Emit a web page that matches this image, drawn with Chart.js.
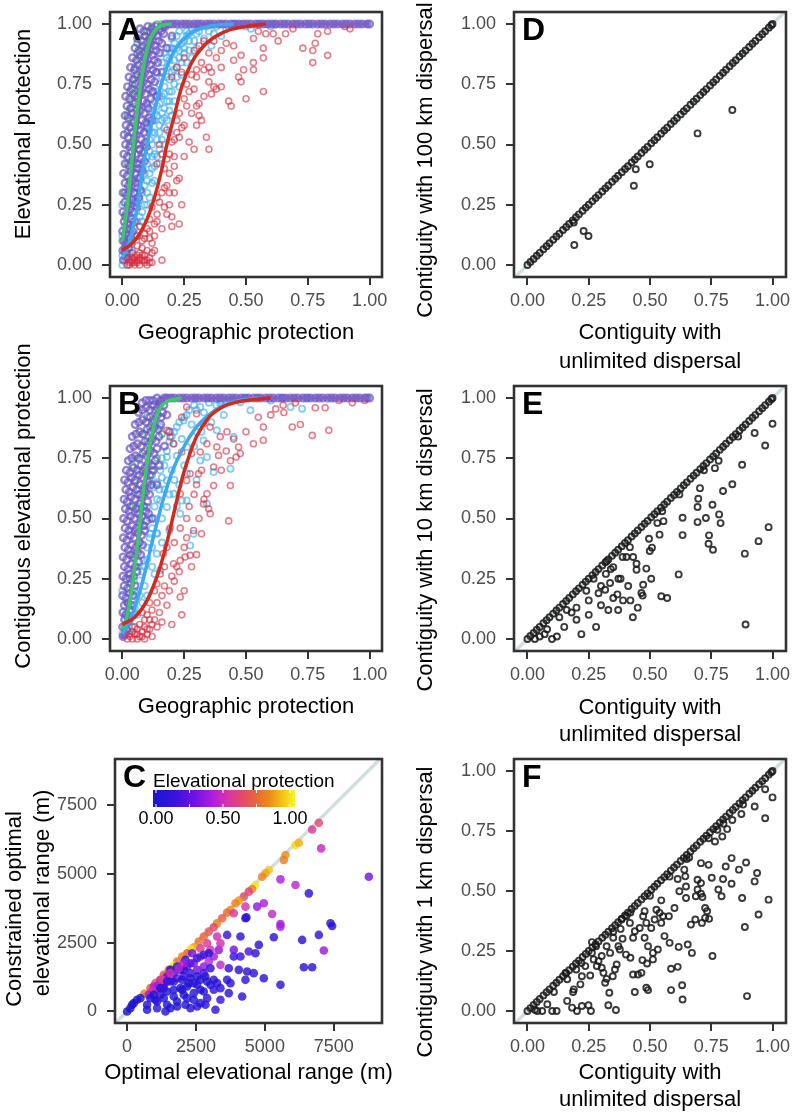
<!DOCTYPE html>
<html><head><meta charset="utf-8">
<script src="https://cdn.jsdelivr.net/npm/chart.js@4.4.0/dist/chart.umd.min.js"></script>
<style>
html,body{margin:0;padding:0;background:#fff;overflow:hidden;width:793px;height:1115px}
canvas{position:absolute}
</style></head><body>
<canvas id="cA" width="396" height="380" style="left:0px;top:0px"></canvas>
<canvas id="cD" width="393" height="380" style="left:400px;top:0px"></canvas>
<canvas id="cB" width="396" height="420" style="left:0px;top:334px"></canvas>
<canvas id="cE" width="393" height="380" style="left:400px;top:374px"></canvas>
<canvas id="cC" width="396" height="368" style="left:0px;top:747px"></canvas>
<canvas id="cF" width="393" height="368" style="left:400px;top:747px"></canvas>
<script>
// ---------------- DATA ----------------
const ticks01 = [0, 0.25, 0.5, 0.75, 1];
const ticksC = [0, 2500, 5000, 7500];
const cLegendTicks = [0, 0.5, 1];

// Panel A (Geographic vs Elevational protection)
const aRed = [[0.92,0.98],[0.90,0.99],[0.83,0.97],[0.79,0.96],[0.78,0.92],[0.73,0.90],[0.77,0.89],[0.77,0.84],[0.83,0.87],[0.69,0.98],[0.66,0.96],[0.63,0.93],[0.61,0.96],[0.58,0.96],[0.55,0.97],[0.53,0.94],[0.57,0.90],[0.57,0.86],[0.53,0.84],[0.48,0.87],[0.45,0.91],[0.42,0.92],[0.37,0.93],[0.40,0.89],[0.38,0.86],[0.45,0.85],[0.47,0.78],[0.48,0.76],[0.43,0.68],[0.44,0.66],[0.50,0.69],[0.57,0.72],[0.53,0.81],[0.49,0.81],[0.32,0.84],[0.33,0.81],[0.35,0.82],[0.30,0.78],[0.36,0.80],[0.40,0.82],[0.38,0.73],[0.36,0.71],[0.33,0.70],[0.29,0.73],[0.26,0.66],[0.30,0.66],[0.37,0.74],[0.35,0.76],[0.40,0.74],[0.28,0.63],[0.31,0.62],[0.30,0.58],[0.32,0.60],[0.34,0.53],[0.35,0.48],[0.29,0.48],[0.27,0.51],[0.24,0.57],[0.23,0.53],[0.25,0.45],[0.21,0.45],[0.21,0.41],[0.19,0.38],[0.17,0.40],[0.17,0.32],[0.19,0.30],[0.21,0.30],[0.22,0.35],[0.23,0.36],[0.24,0.25],[0.23,0.17],[0.20,0.16],[0.18,0.21],[0.14,0.21],[0.12,0.24],[0.14,0.18],[0.11,0.19],[0.10,0.15],[0.13,0.12],[0.09,0.13],[0.08,0.10],[0.06,0.08],[0.04,0.05],[0.05,0.01],[0.07,0.02],[0.09,0.04],[0.10,0.06],[0.12,0.09],[0.08,0.07],[0.11,0.11],[0.16,0.15],[0.15,0.26],[0.18,0.33],[0.20,0.51],[0.22,0.55],[0.25,0.58],[0.31,0.67],[0.16,0.02],[0.02,0.00],[0.03,0.00],[0.04,0.01],[0.05,0.00],[0.06,0.01],[0.07,0.00],[0.08,0.02],[0.09,0.01],[0.10,0.02],[0.03,0.02],[0.05,0.03],[0.06,0.04],[0.07,0.05],[0.11,0.03],[0.12,0.05],[0.06,0.12],[0.07,0.16],[0.09,0.11],[0.13,0.06],[0.11,0.14],[0.13,0.17],[0.14,0.28],[0.16,0.30],[0.17,0.24],[0.19,0.25],[0.20,0.20],[0.18,0.44],[0.19,0.46],[0.21,0.52],[0.22,0.60],[0.23,0.63],[0.25,0.69],[0.27,0.72],[0.26,0.75],[0.28,0.79],[0.30,0.81],[0.29,0.89],[0.31,0.91],[0.33,0.93],[0.35,0.88],[0.25,0.86],[0.22,0.82],[0.20,0.78],[0.24,0.80],[0.18,0.56],[0.15,0.50],[0.16,0.46],[0.14,0.42],[0.02,0.03],[0.04,0.03],[0.08,0.04],[0.10,0.00],[0.12,0.01],[0.03,0.01],[0.05,0.02],[0.07,0.03],[0.09,0.02],[0.11,0.01],[0.04,0.02],[0.06,0.02]];
const aBlue = [[0.0,0.0],[0.01,0.02],[0.02,0.0],[0.0,0.04],[0.01,0.07],[0.02,0.10],[0.03,0.05],[0.0,0.12],[0.01,0.16],[0.02,0.20],[0.03,0.14],[0.04,0.09],[0.0,0.25],[0.01,0.30],[0.03,0.28],[0.06,0.30],[0.07,0.35],[0.08,0.40],[0.09,0.33],[0.10,0.45],[0.11,0.38],[0.12,0.50],[0.13,0.55],[0.11,0.60],[0.14,0.62],[0.15,0.58],[0.13,0.68],[0.16,0.70],[0.17,0.65],[0.15,0.75],[0.18,0.78],[0.20,0.80],[0.19,0.72],[0.21,0.85],[0.17,0.88],[0.22,0.90],[0.24,0.92],[0.20,0.94],[0.26,0.95],[0.23,0.97],[0.28,0.98],[0.30,0.96],[0.27,0.93],[0.25,0.88],[0.22,0.82],[0.18,0.60],[0.16,0.52],[0.14,0.45],[0.12,0.40],[0.10,0.30],[0.08,0.22],[0.06,0.18],[0.09,0.25],[0.13,0.35],[0.15,0.42],[0.17,0.50],[0.19,0.55],[0.20,0.62],[0.21,0.68],[0.23,0.74],[0.24,0.79],[0.26,0.84],[0.12,0.72],[0.10,0.66],[0.14,0.80],[0.16,0.84],[0.19,0.90],[0.32,0.99],[0.35,0.97],[0.38,0.99],[0.42,0.98],[0.45,1.0],[0.50,0.99],[0.55,1.0],[0.60,0.99],[0.33,0.94],[0.36,0.91],[0.30,0.90],[0.28,0.86],[0.40,0.95],[0.07,0.48],[0.09,0.55],[0.05,0.40],[0.04,0.35],[0.05,0.22],[0.07,0.27],[0.11,0.52],[0.13,0.46],
 [0.05,0.15],[0.06,0.26],[0.07,0.20],[0.08,0.30],[0.09,0.38],[0.10,0.42],[0.11,0.47],[0.12,0.55],[0.13,0.60],[0.14,0.66],[0.15,0.70],[0.16,0.63],[0.17,0.74],[0.18,0.82],[0.19,0.85],[0.20,0.88],[0.21,0.92],[0.22,0.95],[0.23,0.86],[0.24,0.84],[0.25,0.90],[0.26,0.97],[0.27,0.89],[0.29,0.93],[0.31,0.97],[0.34,0.99],[0.37,0.96],[0.43,0.99],[0.48,1.0],[0.52,0.98],[0.58,1.0],[0.62,1.0],[0.10,0.35],[0.12,0.45],[0.14,0.52],[0.16,0.60],[0.18,0.68],[0.20,0.72],[0.22,0.78],[0.11,0.28],[0.13,0.41],[0.15,0.48],[0.17,0.57],[0.19,0.64],[0.21,0.75],[0.08,0.45],[0.10,0.58],[0.12,0.64],[0.14,0.72],[0.16,0.78],[0.18,0.86],[0.20,0.90],[0.02,0.05],[0.03,0.10],[0.04,0.18],[0.05,0.27],[0.06,0.36],[0.07,0.42],[0.09,0.50],[0.11,0.56],[0.13,0.63],[0.15,0.67],[0.17,0.71],[0.19,0.77],[0.21,0.81],[0.23,0.89],[0.25,0.93],[0.27,0.96],[0.29,0.99],[0.15,0.55],[0.17,0.61],[0.19,0.68],[0.12,0.34],[0.10,0.25],[0.08,0.18],[0.06,0.12],[0.04,0.06]];
const aGreen = [[0.01,0.30],[0.02,0.42],[0.03,0.50],[0.02,0.55],[0.04,0.60],[0.03,0.65],[0.05,0.70],[0.04,0.75],[0.06,0.78],[0.05,0.82],[0.07,0.86],[0.08,0.90],[0.06,0.92],[0.09,0.95],[0.10,0.97],[0.12,0.99],[0.14,1.0],[0.16,1.0],[0.01,0.20],[0.02,0.15],[0.03,0.35],[0.04,0.45],[0.0,0.10],[0.05,0.58],[0.07,0.72],[0.08,0.80],[0.11,0.93],[0.13,0.97],[0.03,0.72],[0.04,0.68],[0.06,0.88],[0.02,0.62]];
const aPurple = [[0.004,0.02],[0.016,0.03],[0.002,0.06],[0.013,0.05],[0.026,0.07],[0.006,0.10],[0.019,0.09],[0.031,0.11],[0.001,0.14],[0.012,0.13],[0.027,0.15],[0.041,0.14],[0.007,0.18],[0.021,0.17],[0.036,0.19],[0.049,0.18],[0.002,0.22],[0.015,0.21],[0.031,0.23],[0.045,0.22],[0.058,0.24],[0.009,0.26],[0.023,0.25],[0.039,0.27],[0.053,0.26],[0.066,0.28],[0.003,0.30],[0.017,0.29],[0.031,0.31],[0.047,0.30],[0.061,0.32],[0.073,0.31],[0.011,0.34],[0.025,0.33],[0.041,0.35],[0.056,0.34],[0.071,0.36],[0.005,0.38],[0.019,0.37],[0.035,0.39],[0.051,0.38],[0.065,0.40],[0.081,0.39],[0.011,0.42],[0.027,0.41],[0.043,0.43],[0.059,0.42],[0.075,0.44],[0.090,0.43],[0.006,0.46],[0.021,0.45],[0.037,0.47],[0.053,0.46],[0.069,0.48],[0.085,0.47],[0.097,0.49],[0.013,0.50],[0.029,0.49],[0.045,0.51],[0.061,0.50],[0.077,0.52],[0.093,0.51],[0.007,0.54],[0.023,0.53],[0.039,0.55],[0.055,0.54],[0.071,0.56],[0.087,0.55],[0.101,0.57],[0.015,0.58],[0.031,0.57],[0.047,0.59],[0.063,0.58],[0.079,0.60],[0.095,0.59],[0.108,0.61],[0.011,0.62],[0.025,0.61],[0.041,0.63],[0.057,0.62],[0.073,0.64],[0.089,0.63],[0.105,0.65],[0.019,0.66],[0.035,0.65],[0.051,0.67],[0.067,0.66],[0.083,0.68],[0.099,0.67],[0.115,0.69],[0.013,0.70],[0.029,0.69],[0.045,0.71],[0.061,0.70],[0.077,0.72],[0.093,0.71],[0.109,0.73],[0.123,0.72],[0.021,0.74],[0.037,0.73],[0.053,0.75],[0.069,0.74],[0.085,0.76],[0.101,0.75],[0.117,0.77],[0.131,0.76],[0.027,0.78],[0.043,0.77],[0.059,0.79],[0.075,0.78],[0.091,0.80],[0.107,0.79],[0.123,0.81],[0.137,0.80],[0.033,0.82],[0.049,0.81],[0.065,0.83],[0.081,0.82],[0.097,0.84],[0.113,0.83],[0.129,0.85],[0.143,0.84],[0.041,0.86],[0.057,0.85],[0.073,0.87],[0.089,0.86],[0.105,0.88],[0.121,0.87],[0.137,0.89],[0.151,0.88],[0.051,0.90],[0.067,0.89],[0.083,0.91],[0.099,0.90],[0.115,0.92],[0.131,0.91],[0.147,0.93],[0.159,0.92],[0.061,0.94],[0.077,0.93],[0.093,0.95],[0.109,0.94],[0.125,0.96],[0.141,0.95],[0.157,0.97],[0.167,0.96],[0.071,0.98],[0.087,0.97],[0.103,0.99],[0.119,0.98],[0.135,0.99],[0.151,0.98],[0.165,0.99],[0.173,0.99],[0.14,0.70],[0.16,0.80],[0.18,0.90],[0.12,0.60],[0.20,0.95],
 [0.175,1],[0.19,1],[0.205,1],[0.22,1],[0.24,1],[0.255,1],[0.27,1],[0.29,1],[0.305,1],[0.32,1],[0.34,1],[0.355,1],[0.37,1],[0.39,1],[0.405,1],[0.42,1],[0.44,1],[0.455,1],[0.47,1],[0.49,1],[0.505,1],[0.52,1],[0.54,1],[0.555,1],[0.57,1],[0.59,1],[0.605,1],[0.62,1],[0.64,1],[0.655,1],[0.67,1],[0.69,1],[0.705,1],[0.72,1],[0.74,1],[0.755,1],[0.77,1],[0.79,1],[0.805,1],[0.82,1],[0.84,1],[0.855,1],[0.87,1],[0.89,1],[0.905,1],[0.92,1],[0.94,1],[0.955,1],[0.97,1],[0.99,1],[1.0,1]];
const aRedFit = [[0,0.06],[0.04,0.09],[0.07,0.13],[0.10,0.19],[0.13,0.28],[0.16,0.40],[0.18,0.50],[0.21,0.62],[0.24,0.74],[0.28,0.84],[0.33,0.91],[0.38,0.95],[0.43,0.975],[0.50,0.99],[0.58,1.0]];
const aBlueFit = [[0,0.03],[0.03,0.10],[0.06,0.24],[0.08,0.38],[0.10,0.50],[0.13,0.64],[0.16,0.76],[0.20,0.87],[0.25,0.94],[0.30,0.975],[0.36,0.993],[0.45,1.0]];
const aGreenFit = [[0,0.10],[0.02,0.25],[0.035,0.40],[0.05,0.55],[0.07,0.72],[0.09,0.85],[0.11,0.93],[0.13,0.97],[0.16,0.995],[0.20,1.0]];
const aPurpleFit = [[0,0.05],[0.03,0.28],[0.06,0.58],[0.09,0.80],[0.12,0.93],[0.15,0.985],[0.18,1.0],[1.0,1.0]];

// Panel B (Geographic vs Contiguous elevational protection)
const bRed = [[0.93,0.98],[0.876,0.99],[0.835,0.866],[0.768,0.845],[0.78,0.96],[0.82,0.96],[0.72,0.89],[0.687,0.88],[0.653,0.94],[0.62,0.955],[0.57,0.88],[0.57,0.825],[0.53,0.81],[0.477,0.77],[0.46,0.755],[0.437,0.74],[0.47,0.797],[0.45,0.83],[0.423,0.86],[0.396,0.84],[0.355,0.88],[0.328,0.893],[0.30,0.935],[0.26,0.963],[0.24,0.92],[0.342,0.81],[0.382,0.797],[0.389,0.762],[0.369,0.714],[0.437,0.637],[0.369,0.637],[0.342,0.603],[0.328,0.56],[0.349,0.54],[0.355,0.52],[0.32,0.437],[0.288,0.45],[0.274,0.347],[0.254,0.34],[0.234,0.326],[0.207,0.312],[0.18,0.38],[0.166,0.354],[0.234,0.603],[0.26,0.658],[0.274,0.686],[0.308,0.686],[0.28,0.77],[0.315,0.776],[0.24,0.776],[0.207,0.81],[0.193,0.838],[0.18,0.866],[0.234,0.46],[0.193,0.46],[0.153,0.27],[0.139,0.229],[0.234,0.174],[0.43,0.49],[0.02,0.0],[0.03,0.01],[0.04,0.0],[0.05,0.02],[0.06,0.0],[0.07,0.01],[0.08,0.03],[0.09,0.0],[0.10,0.02],[0.11,0.04],[0.12,0.01],[0.05,0.05],[0.07,0.06],[0.09,0.08],[0.10,0.10],[0.12,0.12],[0.13,0.08],[0.14,0.15],[0.15,0.11],[0.16,0.18],[0.17,0.22],[0.18,0.14],[0.19,0.20],[0.20,0.26],[0.21,0.24],[0.22,0.30],[0.23,0.28],[0.25,0.38],[0.26,0.42],[0.27,0.55],[0.29,0.60],[0.30,0.64],[0.32,0.70],[0.26,0.50],[0.21,0.40],[0.17,0.30],[0.14,0.05],[0.16,0.07],[0.20,0.06],[0.24,0.10],[0.06,0.04],[0.08,0.11],[0.11,0.15],[0.13,0.20],[0.25,0.20],[0.28,0.30],[0.30,0.35],[0.31,0.50],[0.33,0.58],[0.40,0.70],[0.42,0.78],[0.50,0.86],[0.55,0.92],[0.60,0.93],[0.65,0.97],[0.70,0.98],[0.98,0.99],[0.03,0.02],[0.04,0.03],[0.06,0.02],[0.08,0.01],[0.10,0.04],[0.12,0.06],[0.09,0.05],[0.11,0.08]];
const bBlue = [[0.369,0.693],[0.342,0.561],[0.274,0.388],[0.288,0.437],[0.241,0.575],[0.18,0.658],[0.153,0.575],[0.139,0.437],[0.437,0.707],[0.45,0.838],[0.518,0.949],[0.727,0.956],[0.68,0.963],[0.342,0.755],[0.261,0.797],[0.207,0.81],[0.153,0.88],[0.247,0.907],[0.315,0.963],[0.396,0.976],[0.477,0.983],[0.301,0.859],[0.328,0.824],[0.382,0.866],[0.315,0.741],[0.261,0.686],[0.207,0.603],[0.18,0.548],[0.139,0.354],[0.153,0.285],[0.234,0.52],[0.26,0.575],[0.18,0.755],[0.153,0.70],[0.126,0.63],[0.10,0.548],[0.112,0.437],[0.085,0.326],[0.07,0.243],[0.058,0.188],[0.038,0.16],[0.0,0.02],[0.01,0.05],[0.02,0.03],[0.03,0.08],[0.01,0.10],[0.04,0.12],[0.02,0.15],[0.05,0.20],[0.06,0.10],[0.08,0.15],[0.0,0.20],[0.03,0.25],[0.06,0.30],[0.09,0.22],[0.10,0.38],[0.12,0.30],[0.11,0.50],[0.13,0.55],[0.14,0.65],[0.16,0.75],[0.19,0.82],[0.22,0.88],[0.26,0.93],[0.30,0.95],[0.35,0.98],[0.40,0.99],[0.55,1.0],[0.60,0.99],[0.75,1.0],[0.07,0.40],[0.09,0.47],[0.12,0.68],[0.17,0.62],
 [0.05,0.13],[0.07,0.18],[0.08,0.28],[0.10,0.33],[0.11,0.42],[0.12,0.46],[0.13,0.50],[0.14,0.58],[0.15,0.62],[0.16,0.67],[0.17,0.72],[0.18,0.78],[0.20,0.84],[0.21,0.86],[0.23,0.90],[0.25,0.92],[0.27,0.95],[0.29,0.97],[0.20,0.70],[0.22,0.76],[0.19,0.60],[0.21,0.66],[0.16,0.50],[0.14,0.44],[0.12,0.38],[0.09,0.30],[0.24,0.83],[0.28,0.89],[0.33,0.94],[0.38,0.97],[0.44,0.99],[0.50,1.0],[0.65,1.0],[0.23,0.64],[0.25,0.72],[0.29,0.80],[0.32,0.86],[0.36,0.90],[0.41,0.93],[0.30,0.66],[0.22,0.55],[0.19,0.45],[0.16,0.40],[0.13,0.27],[0.10,0.18],[0.04,0.05],[0.02,0.09]];
const bGreen = [[0.02,0.15],[0.03,0.25],[0.04,0.35],[0.05,0.45],[0.06,0.55],[0.07,0.60],[0.05,0.65],[0.08,0.70],[0.06,0.75],[0.09,0.78],[0.10,0.82],[0.08,0.85],[0.11,0.88],[0.12,0.90],[0.10,0.92],[0.13,0.95],[0.15,0.97],[0.17,0.99],[0.20,1.0],[0.04,0.72],[0.03,0.55],[0.12,0.70],[0.14,0.75],[0.16,0.85],[0.01,0.05],[0.07,0.52],[0.09,0.62],[0.11,0.66]];
const bPurple = [[0.003,0.01],[0.012,0.02],[0.001,0.05],[0.018,0.04],[0.009,0.08],[0.024,0.07],[0.002,0.11],[0.016,0.10],[0.031,0.12],[0.008,0.14],[0.023,0.15],[0.038,0.14],[0.001,0.18],[0.014,0.17],[0.029,0.19],[0.044,0.18],[0.007,0.22],[0.021,0.21],[0.036,0.23],[0.051,0.22],[0.002,0.26],[0.015,0.25],[0.030,0.27],[0.045,0.26],[0.059,0.28],[0.008,0.30],[0.022,0.29],[0.037,0.31],[0.052,0.30],[0.066,0.32],[0.003,0.34],[0.017,0.33],[0.032,0.35],[0.047,0.34],[0.062,0.36],[0.074,0.35],[0.010,0.38],[0.024,0.37],[0.039,0.39],[0.054,0.38],[0.069,0.40],[0.082,0.39],[0.004,0.42],[0.018,0.41],[0.033,0.43],[0.048,0.42],[0.063,0.44],[0.078,0.43],[0.090,0.45],[0.011,0.46],[0.026,0.45],[0.041,0.47],[0.056,0.46],[0.071,0.48],[0.086,0.47],[0.098,0.49],[0.005,0.50],[0.019,0.49],[0.034,0.51],[0.049,0.50],[0.064,0.52],[0.079,0.51],[0.094,0.53],[0.106,0.52],[0.012,0.54],[0.027,0.53],[0.042,0.55],[0.057,0.54],[0.072,0.56],[0.087,0.55],[0.102,0.57],[0.007,0.58],[0.020,0.57],[0.035,0.59],[0.050,0.58],[0.065,0.60],[0.080,0.59],[0.095,0.61],[0.110,0.60],[0.014,0.62],[0.028,0.61],[0.043,0.63],[0.058,0.62],[0.073,0.64],[0.088,0.63],[0.103,0.65],[0.117,0.64],[0.009,0.66],[0.022,0.65],[0.037,0.67],[0.052,0.66],[0.067,0.68],[0.082,0.67],[0.097,0.69],[0.112,0.68],[0.125,0.70],[0.016,0.70],[0.030,0.69],[0.045,0.71],[0.060,0.70],[0.075,0.72],[0.090,0.71],[0.105,0.73],[0.120,0.72],[0.133,0.74],[0.024,0.74],[0.038,0.75],[0.053,0.76],[0.068,0.75],[0.083,0.77],[0.098,0.76],[0.113,0.78],[0.128,0.77],[0.140,0.79],[0.031,0.79],[0.046,0.80],[0.061,0.81],[0.076,0.80],[0.091,0.82],[0.106,0.81],[0.121,0.83],[0.136,0.82],[0.148,0.84],[0.040,0.84],[0.055,0.85],[0.070,0.86],[0.085,0.85],[0.100,0.87],[0.115,0.86],[0.130,0.88],[0.145,0.87],[0.155,0.89],[0.052,0.89],[0.067,0.90],[0.082,0.91],[0.097,0.90],[0.112,0.92],[0.127,0.91],[0.142,0.93],[0.157,0.92],[0.163,0.94],[0.066,0.94],[0.081,0.95],[0.096,0.96],[0.111,0.95],[0.126,0.97],[0.141,0.96],[0.156,0.98],[0.168,0.97],[0.080,0.98],[0.095,0.99],[0.110,0.99],[0.125,0.99],[0.140,1.0],[0.155,0.99],[0.170,1.0],[0.14,0.64],[0.15,0.72],[0.17,0.80],[0.19,0.86],[0.12,0.50],[0.18,0.93],
 [0.18,1],[0.195,1],[0.21,1],[0.23,1],[0.245,1],[0.26,1],[0.28,1],[0.295,1],[0.31,1],[0.33,1],[0.345,1],[0.36,1],[0.38,1],[0.395,1],[0.41,1],[0.43,1],[0.445,1],[0.46,1],[0.48,1],[0.495,1],[0.51,1],[0.53,1],[0.545,1],[0.56,1],[0.58,1],[0.595,1],[0.61,1],[0.63,1],[0.645,1],[0.66,1],[0.68,1],[0.695,1],[0.71,1],[0.73,1],[0.745,1],[0.76,1],[0.78,1],[0.795,1],[0.81,1],[0.83,1],[0.845,1],[0.86,1],[0.88,1],[0.895,1],[0.91,1],[0.93,1],[0.945,1],[0.96,1],[0.98,1],[0.99,1],[1.0,1]];
const bRedFit = [[0,0.06],[0.05,0.09],[0.10,0.16],[0.15,0.29],[0.18,0.40],[0.21,0.53],[0.24,0.66],[0.27,0.76],[0.30,0.84],[0.35,0.92],[0.40,0.96],[0.45,0.98],[0.50,0.99],[0.60,1.0]];
const bBlueFit = [[0,0.02],[0.04,0.10],[0.08,0.23],[0.12,0.40],[0.16,0.56],[0.20,0.69],[0.25,0.80],[0.30,0.88],[0.35,0.93],[0.40,0.965],[0.47,0.99],[0.55,1.0]];
const bGreenFit = [[0,0.04],[0.02,0.10],[0.04,0.22],[0.06,0.38],[0.08,0.57],[0.10,0.73],[0.12,0.85],[0.14,0.93],[0.16,0.97],[0.19,0.99],[0.24,1.0]];
const bPurpleFit = [[0,0.0],[0.05,0.30],[0.08,0.55],[0.11,0.78],[0.14,0.93],[0.17,1.0],[1.0,1.0]];

// Panel C (Optimal vs constrained optimal elevational range, colour = elevational protection)
const cX = [6958,6716,7042,6110,6232,5748,5687,5143,5022,4900,4658,4538,4416,4235,4054,3933,3751,3630,3449,3267,3146,2965,2783,2602,2420,2299,2178,1997,1815,1694,1513,1331,1186,1029,847,629,242,121,0,181,363,484,726,8773,6595,5566,6110,4961,4719,5264,5566,5566,4295,4330,3872,4295,4114,3630,5324,7381,7442,6958,6353,7139,6414,6716,5566,4961,4598,4356,4658,4780,4416,4114,3872,3691,4054,4295,4175,3691,3388,3267,3146,3388,3146,3751,3630,3207,2843,2662,2541,2299,2118,1815,1573,1392,1089,726,1029,1331,1694,2057,2420,2783,3025,2843,2662,2420,2178,1936,1694,1452,1210,1089,1331,1573,1815,2057,2299,2541,2783,2965,3146,3328,3388,3025,2662,2420,2178,1936,1694,1452,1210,968,908,787,2662,2904,3267,3388,3872,2360,2541,2965,2783,2118,1815,1573,1997,2239,2541,2662,1089,1452,1815,2178,2420,2904,1997,1331,1150,2299,2057,1694,2541,2299,2057,1876,1573,1270,1452,2783,3025,2904,1210,968,847];
const cY = [6861,6619,5929,6050,6135,5687,5506,5143,5022,4900,4598,4453,4356,4175,4029,3933,3691,3594,3388,3207,3061,2904,2723,2541,2335,2263,2118,1997,1815,1658,1513,1331,1150,1029,847,641,302,121,0,242,424,484,61,4900,4295,4803,4598,3933,3812,3545,3182,3086,3388,3420,3570,3812,2723,2783,2698,3207,3110,2783,2601,2214,1609,1609,968,1210,1392,1452,2118,2420,2178,1997,1997,1573,1513,1150,545,666,424,1029,1150,847,787,1029,1150,61,242,302,182,121,242,182,121,0,121,242,424,484,545,605,666,726,968,1270,1150,1029,908,847,787,726,605,787,968,1089,1210,1270,1392,1513,1634,1815,1997,2239,1694,2239,1997,1755,1634,1513,1392,1271,1150,908,726,605,2299,2480,2723,2480,2239,2118,1936,2118,2057,1876,1634,1513,1150,1029,968,787,363,242,363,484,424,484,787,847,968,1210,1513,1089,1270,1755,1755,1573,1392,1150,1089,1392,1573,1089,847,605,484];
const cV = [0.62,0.55,0.47,0.95,0.88,0.82,0.78,0.92,0.86,0.80,0.97,0.80,0.60,0.62,0.85,0.80,0.82,0.75,0.70,0.80,0.62,0.66,0.72,0.76,0.86,0.97,0.72,0.80,0.76,0.97,0.72,0.66,0.97,0.66,0.72,0.78,0.02,0.02,0.02,0.04,0.05,0.06,0.04,0.30,0.10,0.42,0.45,0.42,0.36,0.46,0.40,0.40,0.08,0.10,0.55,0.52,0.10,0.15,0.10,0.10,0.10,0.10,0.10,0.38,0.10,0.10,0.10,0.10,0.10,0.10,0.10,0.10,0.20,0.15,0.15,0.10,0.10,0.10,0.10,0.10,0.15,0.10,0.10,0.10,0.15,0.10,0.10,0.10,0.10,0.08,0.08,0.08,0.06,0.06,0.06,0.08,0.10,0.08,0.06,0.05,0.05,0.05,0.06,0.06,0.08,0.12,0.06,0.06,0.05,0.05,0.05,0.05,0.06,0.35,0.30,0.25,0.30,0.20,0.15,0.30,0.35,0.45,0.40,0.35,0.47,0.50,0.45,0.35,0.20,0.15,0.20,0.20,0.45,0.42,0.50,0.40,0.55,0.55,0.50,0.50,0.30,0.30,0.15,0.10,0.15,0.10,0.05,0.05,0.05,0.05,0.10,0.05,0.10,0.05,0.05,0.05,0.05,0.10,0.05,0.10,0.40,0.10,0.10,0.05,0.05,0.25,0.40,0.45,0.50,0.55,0.15,0.15,0.10,0.05,0.08,0.05,0.06];

// Panel D (100 km dispersal)
const dPts = [[0,0],[0.012,0.012],[0.025,0.025],[0.038,0.038],[0.05,0.05],[0.065,0.065],[0.078,0.078],[0.09,0.09],[0.105,0.105],[0.118,0.118],[0.13,0.13],[0.145,0.145],[0.158,0.158],[0.17,0.17],[0.185,0.185],[0.198,0.198],[0.21,0.21],[0.225,0.225],[0.238,0.238],[0.25,0.25],[0.265,0.265],[0.278,0.278],[0.29,0.29],[0.305,0.305],[0.318,0.318],[0.33,0.33],[0.345,0.345],[0.358,0.358],[0.37,0.37],[0.385,0.385],[0.398,0.398],[0.41,0.41],[0.425,0.425],[0.438,0.438],[0.45,0.45],[0.465,0.465],[0.478,0.478],[0.49,0.49],[0.505,0.505],[0.518,0.518],[0.53,0.53],[0.545,0.545],[0.558,0.558],[0.57,0.57],[0.585,0.585],[0.598,0.598],[0.61,0.61],[0.625,0.625],[0.638,0.638],[0.65,0.65],[0.665,0.665],[0.678,0.678],[0.69,0.69],[0.705,0.705],[0.718,0.718],[0.73,0.73],[0.745,0.745],[0.758,0.758],[0.77,0.77],[0.785,0.785],[0.798,0.798],[0.81,0.81],[0.825,0.825],[0.838,0.838],[0.85,0.85],[0.865,0.865],[0.878,0.878],[0.89,0.89],[0.905,0.905],[0.918,0.918],[0.93,0.93],[0.945,0.945],[0.958,0.958],[0.97,0.97],[0.985,0.985],[0.995,0.995],[1,1],
 [0.836,0.643],[0.694,0.546],[0.499,0.418],[0.442,0.397],[0.434,0.329],[0.229,0.141],[0.249,0.120],[0.191,0.083],[0.189,0.176]];

// Panel E (10 km dispersal)
const ePts = [[0,0],[0.012,0.012],[0.025,0.025],[0.038,0.038],[0.05,0.05],[0.065,0.065],[0.078,0.078],[0.09,0.09],[0.105,0.105],[0.118,0.118],[0.13,0.13],[0.145,0.145],[0.158,0.158],[0.17,0.17],[0.185,0.185],[0.198,0.198],[0.21,0.21],[0.225,0.225],[0.238,0.238],[0.25,0.25],[0.265,0.265],[0.278,0.278],[0.29,0.29],[0.305,0.305],[0.318,0.318],[0.33,0.33],[0.345,0.345],[0.358,0.358],[0.37,0.37],[0.385,0.385],[0.398,0.398],[0.41,0.41],[0.425,0.425],[0.438,0.438],[0.45,0.45],[0.465,0.465],[0.478,0.478],[0.49,0.49],[0.505,0.505],[0.518,0.518],[0.53,0.53],[0.545,0.545],[0.558,0.558],[0.57,0.57],[0.585,0.585],[0.598,0.598],[0.61,0.61],[0.625,0.625],[0.638,0.638],[0.65,0.65],[0.665,0.665],[0.678,0.678],[0.69,0.69],[0.705,0.705],[0.718,0.718],[0.73,0.73],[0.745,0.745],[0.758,0.758],[0.77,0.77],[0.785,0.785],[0.798,0.798],[0.81,0.81],[0.825,0.825],[0.838,0.838],[0.85,0.85],[0.865,0.865],[0.878,0.878],[0.89,0.89],[0.905,0.905],[0.918,0.918],[0.93,0.93],[0.945,0.945],[0.958,0.958],[0.97,0.97],[0.985,0.985],[0.995,0.995],[1,1],
 [1.0,0.893],[0.927,0.855],[0.970,0.803],[0.876,0.723],[0.836,0.642],[0.798,0.614],[0.765,0.709],[0.755,0.557],[0.782,0.517],[0.788,0.481],[0.728,0.502],[0.694,0.485],[0.741,0.430],[0.739,0.395],[0.757,0.370],[0.704,0.626],[0.697,0.582],[0.694,0.548],[0.633,0.503],[0.633,0.431],[0.555,0.489],[0.530,0.481],[0.539,0.433],[0.496,0.416],[0.508,0.379],[0.499,0.365],[0.984,0.464],[0.943,0.406],[0.887,0.354],[0.617,0.268],[0.418,0.381],[0.404,0.340],[0.431,0.340],[0.445,0.312],[0.485,0.292],[0.505,0.250],[0.445,0.287],[0.371,0.250],[0.350,0.298],[0.323,0.323],[0.388,0.340],[0.411,0.220],[0.337,0.232],[0.317,0.204],[0.367,0.185],[0.472,0.225],[0.465,0.191],[0.546,0.177],[0.35,0.17],[0.42,0.16],[0.45,0.13],[0.43,0.09],[0.57,0.17],[0.47,0.18],[0.89,0.06],[0.12,0.01],[0.10,0.0],[0.15,0.05],[0.20,0.08],[0.25,0.10],[0.30,0.14],[0.28,0.05],[0.22,0.02],[0.18,0.11],[0.20,0.13],[0.24,0.20],[0.27,0.25],[0.29,0.19],[0.30,0.22],[0.32,0.27],[0.34,0.29],[0.25,0.16],[0.38,0.25],[0.39,0.16],[0.37,0.12],[0.33,0.12],[0.05,0.01],[0.03,0.0],[0.07,0.02],[0.08,0.04],[0.13,0.09],[0.16,0.12],[0.86,0.84],[0.78,0.74],[0.72,0.70],[0.62,0.60],[0.55,0.53]];

// Panel F (1 km dispersal)
const fPts = [[0,0],[0.012,0.012],[0.025,0.025],[0.038,0.038],[0.05,0.05],[0.065,0.065],[0.078,0.078],[0.09,0.09],[0.105,0.105],[0.118,0.118],[0.13,0.13],[0.145,0.145],[0.158,0.158],[0.17,0.17],[0.185,0.185],[0.198,0.198],[0.21,0.21],[0.225,0.225],[0.238,0.238],[0.25,0.25],[0.265,0.265],[0.278,0.278],[0.29,0.29],[0.305,0.305],[0.318,0.318],[0.33,0.33],[0.345,0.345],[0.358,0.358],[0.37,0.37],[0.385,0.385],[0.398,0.398],[0.41,0.41],[0.425,0.425],[0.438,0.438],[0.45,0.45],[0.465,0.465],[0.478,0.478],[0.49,0.49],[0.505,0.505],[0.518,0.518],[0.53,0.53],[0.545,0.545],[0.558,0.558],[0.57,0.57],[0.585,0.585],[0.598,0.598],[0.61,0.61],[0.625,0.625],[0.638,0.638],[0.65,0.65],[0.665,0.665],[0.678,0.678],[0.69,0.69],[0.705,0.705],[0.718,0.718],[0.73,0.73],[0.745,0.745],[0.758,0.758],[0.77,0.77],[0.785,0.785],[0.798,0.798],[0.81,0.81],[0.825,0.825],[0.838,0.838],[0.85,0.85],[0.865,0.865],[0.878,0.878],[0.89,0.89],[0.905,0.905],[0.918,0.918],[0.93,0.93],[0.945,0.945],[0.958,0.958],[0.97,0.97],[0.985,0.985],[0.995,0.995],[1,1],
 [1.0,0.890],[0.970,0.924],[0.927,0.852],[0.970,0.803],[0.873,0.821],[0.836,0.796],[0.815,0.758],[0.775,0.755],[0.795,0.727],[0.765,0.706],[0.833,0.637],[0.809,0.602],[0.863,0.589],[0.892,0.619],[0.937,0.575],[0.927,0.540],[0.798,0.550],[0.833,0.530],[0.779,0.506],[0.792,0.478],[0.876,0.471],[0.984,0.464],[0.943,0.402],[0.887,0.350],[0.755,0.229],[0.896,0.062],[0.708,0.616],[0.739,0.609],[0.752,0.555],[0.694,0.547],[0.708,0.533],[0.694,0.506],[0.708,0.489],[0.714,0.475],[0.687,0.478],[0.725,0.429],[0.733,0.416],[0.725,0.388],[0.741,0.384],[0.712,0.367],[0.685,0.381],[0.667,0.360],[0.671,0.242],[0.654,0.277],[0.633,0.048],[0.631,0.107],[0.586,0.087],[0.613,0.184],[0.586,0.176],[0.617,0.267],[0.644,0.561],[0.613,0.550],[0.647,0.519],[0.620,0.499],[0.647,0.471],[0.640,0.589],[0.650,0.633],[0.600,0.429],[0.577,0.395],[0.553,0.395],[0.546,0.367],[0.559,0.312],[0.580,0.284],[0.546,0.461],[0.539,0.409],[0.526,0.422],[0.519,0.381],[0.505,0.346],[0.485,0.367],[0.472,0.395],[0.478,0.416],[0.458,0.346],[0.438,0.332],[0.431,0.305],[0.478,0.305],[0.492,0.270],[0.512,0.242],[0.532,0.256],[0.512,0.215],[0.488,0.198],[0.469,0.212],[0.420,0.222],[0.402,0.235],[0.377,0.256],[0.371,0.270],[0.388,0.301],[0.380,0.342],[0.418,0.367],[0.404,0.395],[0.384,0.381],[0.350,0.305],[0.337,0.242],[0.323,0.270],[0.303,0.229],[0.290,0.208],[0.283,0.187],[0.303,0.180],[0.310,0.159],[0.323,0.134],[0.348,0.145],[0.357,0.173],[0.364,0.194],[0.317,0.118],[0.334,0.076],[0.431,0.152],[0.451,0.152],[0.465,0.159],[0.438,0.079],[0.485,0.097],[0.492,0.087],[0.263,0.242],[0.270,0.215],[0.256,0.148],[0.222,0.145],[0.216,0.111],[0.189,0.090],[0.186,0.079],[0.162,0.042],[0.182,0.014],[0.202,0.0],[0.222,0.021],[0.249,0.024],[0.259,0.0],[0.330,0.024],[0.361,0.004],[0.199,0.173],[0.236,0.187],[0.108,0.079],[0.081,0.028],[0.119,0.0],[0.101,0.0],[0.06,0.0],[0.04,0.0],[0.03,0.005],[0.162,0.132],[0.155,0.159],[0.263,0.287],[0.88,0.86],[0.80,0.78],[0.74,0.72],[0.66,0.64],[0.58,0.56],[0.50,0.48],[0.42,0.41],[0.35,0.33],[0.28,0.27],[0.22,0.20]];

// ---------------- RENDERING ----------------
const FONT = "'Liberation Sans', Arial, Helvetica, sans-serif";
const P = arr => arr.map(([x, y]) => ({x, y}));
const f2 = v => Number(v).toFixed(2);
const f0 = v => String(v);

const cStops = [[0,[22,22,205]],[0.15,[55,18,220]],[0.3,[115,18,228]],[0.42,[175,30,220]],[0.52,[215,50,170]],[0.62,[228,72,110]],[0.72,[232,100,60]],[0.82,[238,140,25]],[0.92,[242,200,20]],[1,[246,246,40]]];
function cmap(v, a) {
  for (let i = 1; i < cStops.length; i++) {
    if (v <= cStops[i][0]) {
      const [p0, c0] = cStops[i-1], [p1, c1] = cStops[i];
      const t = (v - p0) / (p1 - p0);
      const c = c0.map((q, k) => Math.round(q + (c1[k] - q) * t));
      return `rgba(${c[0]},${c[1]},${c[2]},${a})`;
    }
  }
  const c = cStops[cStops.length-1][1];
  return `rgba(${c[0]},${c[1]},${c[2]},${a})`;
}

const decor = {
  id: 'decor',
  beforeDatasetsDraw(chart, args, o) {
    if (!o.diag) return;
    const {ctx, chartArea: a, scales: {x, y}} = chart;
    const v0 = Math.max(x.min, y.min), v1 = Math.min(x.max, y.max);
    ctx.save();
    ctx.beginPath(); ctx.rect(a.left, a.top, a.right - a.left, a.bottom - a.top); ctx.clip();
    ctx.strokeStyle = '#d2dee1'; ctx.lineWidth = 3.5;
    ctx.beginPath();
    ctx.moveTo(x.getPixelForValue(v0), y.getPixelForValue(v0));
    ctx.lineTo(x.getPixelForValue(v1), y.getPixelForValue(v1));
    ctx.stroke();
    ctx.restore();
  },
  afterDatasetsDraw(chart, args, o) {
    const {ctx, chartArea: a} = chart;
    ctx.save();
    ctx.strokeStyle = '#333'; ctx.lineWidth = 2.6;
    ctx.strokeRect(a.left, a.top, a.right - a.left, a.bottom - a.top);
    ctx.fillStyle = '#000'; ctx.font = `bold 32px ${FONT}`;
    ctx.textAlign = 'left'; ctx.textBaseline = 'alphabetic';
    ctx.fillText(o.letter, a.left + 8, a.top + 28);
    if (o.colorbar) {
      const cb = o.colorbar;
      ctx.font = `19px ${FONT}`; ctx.fillStyle = '#000';
      ctx.fillText(cb.title, cb.x0, cb.titleY);
      const g = ctx.createLinearGradient(cb.x0, 0, cb.x1, 0);
      cStops.forEach(([p]) => g.addColorStop(p, cmap(p, 1)));
      ctx.fillStyle = g;
      ctx.fillRect(cb.x0, cb.y0, cb.x1 - cb.x0, cb.y1 - cb.y0);
      ctx.strokeStyle = '#fff'; ctx.lineWidth = 1;
      const span = cb.vx1 - cb.vx0;
      [0, 0.25, 0.5, 0.75, 1].forEach(v => {
        const px = cb.vx0 + span * v;
        ctx.beginPath(); ctx.moveTo(px, cb.y0); ctx.lineTo(px, cb.y0 + 3);
        ctx.moveTo(px, cb.y1 - 3); ctx.lineTo(px, cb.y1); ctx.stroke();
      });
      ctx.fillStyle = '#000'; ctx.font = `18px ${FONT}`; ctx.textAlign = 'center'; ctx.textBaseline = 'middle';
      cLegendTicks.forEach(v => ctx.fillText(f2(v), cb.vx0 + span * v, cb.labelY));
    }
    ctx.restore();
  },
  afterDraw(chart, args, o) {
    const {ctx, chartArea: a} = chart;
    ctx.save();
    ctx.fillStyle = '#000'; ctx.font = `22px ${FONT}`;
    ctx.textAlign = 'center'; ctx.textBaseline = 'middle';
    const cx = (a.left + a.right) / 2;
    o.xTitle.forEach((t, i) => ctx.fillText(t, cx, o.xTitleY[i]));
    o.yTitle.forEach((t, i) => {
      ctx.save();
      ctx.translate(o.yTitleX[i], o.yTitleCy[i]);
      ctx.rotate(-Math.PI / 2);
      ctx.fillText(t, 0, 0);
      ctx.restore();
    });
    ctx.restore();
  }
};

function openPts(data, color, order, w, r) {
  const rad = r || 3;
  return {type: 'scatter', data: P(data), order, pointRadius: rad, pointHoverRadius: rad, pointBorderWidth: w || 1.6,
    pointBackgroundColor: 'rgba(0,0,0,0)', pointBorderColor: color, borderColor: color, backgroundColor: 'rgba(0,0,0,0)'};
}
function fitLine(data, color, order) {
  return {type: 'line', data: P(data), order, showLine: true, pointRadius: 0, borderColor: color, borderWidth: 3.5,
    cubicInterpolationMode: 'monotone', fill: false};
}

function panel(id, W, H, plot, xr, yr, xt, yt, fmt, datasets, dec) {
  const tickFont = {family: FONT, size: 18};
  return new Chart(document.getElementById(id), {
    type: 'scatter',
    data: {datasets},
    options: {
      responsive: false, animation: false, events: [], devicePixelRatio: 1,
      layout: {padding: {left: 0, top: plot.top, right: W - plot.right, bottom: 0}},
      plugins: {legend: {display: false}, tooltip: {enabled: false}, decor: dec},
      scales: {
        x: {type: 'linear', position: 'bottom', min: xr[0], max: xr[1],
          afterBuildTicks: s => { s.ticks = xt.map(v => ({value: v})); },
          afterFit: s => { s.height = H - plot.bottom; s.paddingLeft = 0; s.paddingRight = 0; },
          ticks: {callback: fmt, font: tickFont, color: '#4d4d4d', maxRotation: 0, minRotation: 0, autoSkip: false, padding: 5},
          grid: {drawOnChartArea: false, drawTicks: true, tickLength: 8, color: '#333', lineWidth: 2},
          border: {display: false}},
        y: {type: 'linear', position: 'left', min: yr[0], max: yr[1],
          afterBuildTicks: s => { s.ticks = yt.map(v => ({value: v})); },
          afterFit: s => { s.width = plot.left; s.paddingTop = 0; s.paddingBottom = 0; },
          ticks: {callback: fmt, font: tickFont, color: '#4d4d4d', autoSkip: false, padding: 10},
          grid: {drawOnChartArea: false, drawTicks: true, tickLength: 8, color: '#333', lineWidth: 2},
          border: {display: false}}
      }
    },
    plugins: [decor]
  });
}

const R01 = [-0.05, 1.05];
const RED = 'rgba(215,45,65,0.62)', BLUE = 'rgba(66,176,238,0.65)', GREEN = 'rgba(52,188,92,0.7)', PURP = 'rgba(110,86,198,0.72)';
const DARK = 'rgba(25,25,25,0.85)';

function protDatasets(red, blue, green, purple, redF, blueF, greenF, purpleF) {
  return [
    fitLine(redF, '#d42a1e', 0), fitLine(greenF, '#3ec66a', 1), fitLine(blueF, '#3ea8ee', 2), fitLine(purpleF, '#7d62c6', 3),
    openPts(red, RED, 4, 1.6, 3), openPts(purple, PURP, 5, 2.4, 3.3), openPts(green, GREEN, 6, 1.8, 3), openPts(blue, BLUE, 7, 1.8, 3.1)
  ];
}
function contigDatasets(pts) {
  return [openPts(pts, DARK, 0, 1.9, 3)];
}

const plotL = {left: 110, right: 382, top: 12, bottom: 277};
const plotR = {left: 114, right: 386, top: 12, bottom: 277};

panel('cA', 396, 380, plotL, R01, R01, ticks01, ticks01, f2,
  protDatasets(aRed, aBlue, aGreen, aPurple, aRedFit, aBlueFit, aGreenFit, aPurpleFit),
  {letter: 'A', xTitle: ['Geographic protection'], xTitleY: [333], yTitle: ['Elevational protection'], yTitleX: [24], yTitleCy: [134]});
panel('cD', 393, 380, plotR, [-0.055, 1.055], [-0.05, 1.05], ticks01, ticks01, f2, contigDatasets(dPts),
  {letter: 'D', diag: true, xTitle: ['Contiguity with', 'unlimited dispersal'], xTitleY: [333, 362], yTitle: ['Contiguity with 100 km dispersal'], yTitleX: [26], yTitleCy: [160]});
panel('cB', 396, 420, {left: 110, right: 382, top: 52, bottom: 317}, R01, R01, ticks01, ticks01, f2,
  protDatasets(bRed, bBlue, bGreen, bPurple, bRedFit, bBlueFit, bGreenFit, bPurpleFit),
  {letter: 'B', xTitle: ['Geographic protection'], xTitleY: [373], yTitle: ['Contiguous elevational protection'], yTitleX: [24], yTitleCy: [172]});
panel('cE', 393, 380, plotR, [-0.055, 1.055], [-0.05, 1.05], ticks01, ticks01, f2, contigDatasets(ePts),
  {letter: 'E', diag: true, xTitle: ['Contiguity with', 'unlimited dispersal'], xTitleY: [334, 361], yTitle: ['Contiguity with 10 km dispersal'], yTitleX: [26], yTitleCy: [166]});

const cData = cX.map((x, i) => ({x, y: cY[i]}));
panel('cC', 396, 368, {left: 115, right: 382, top: 12, bottom: 276}, [-438, 9250], [-420, 9180], ticksC, ticksC, f0,
  [{type: 'scatter', data: cData, order: 0, pointRadius: 4.3, pointHoverRadius: 4.3, pointBorderWidth: 0,
    pointBackgroundColor: cV.map(v => cmap(v, 0.82)), pointBorderColor: 'rgba(0,0,0,0)'}],
  {letter: 'C', diag: true, xTitle: ['Optimal elevational range (m)'], xTitleY: [326],
   yTitle: ['Constrained optimal', 'elevational range (m)'], yTitleX: [15, 43], yTitleCy: [162, 146],
   colorbar: {title: 'Elevational protection', x0: 153, x1: 295, vx0: 156, vx1: 290, titleY: 40, y0: 43, y1: 60, labelY: 72}});
panel('cF', 393, 368, {left: 114, right: 386, top: 12, bottom: 276}, [-0.055, 1.055], [-0.05, 1.05], ticks01, ticks01, f2, contigDatasets(fPts),
  {letter: 'F', diag: true, xTitle: ['Contiguity with', 'unlimited dispersal'], xTitleY: [326, 353], yTitle: ['Contiguity with 1 km dispersal'], yTitleX: [26], yTitleCy: [165]});
</script>
</body></html>
